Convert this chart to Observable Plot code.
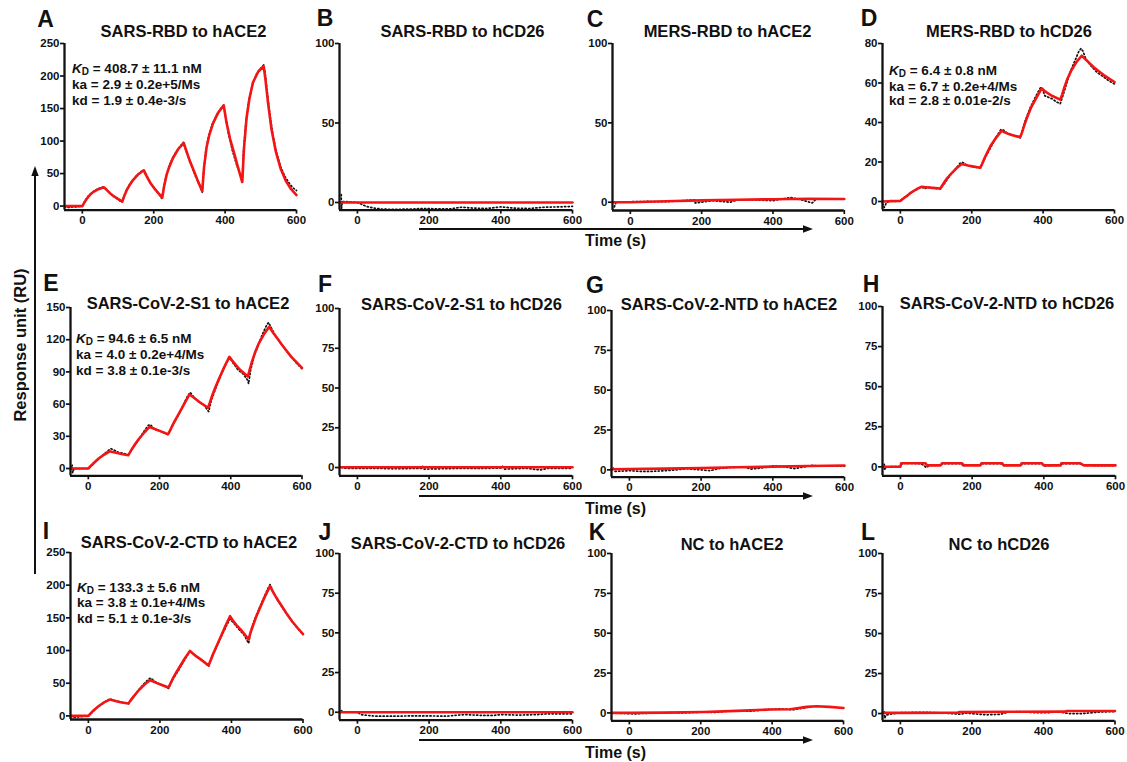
<!DOCTYPE html>
<html><head><meta charset="utf-8">
<script src="https://cdn.jsdelivr.net/npm/d3@7"></script>
<script src="https://cdn.jsdelivr.net/npm/@observablehq/plot@0.6"></script>
<style>
body{margin:0;background:#fff;}
#fig{position:relative;width:1127px;height:762px;overflow:hidden;font-family:"Liberation Sans",Arial,Helvetica,sans-serif;color:#111;}
.abs{position:absolute;white-space:nowrap;}
.letter{font-weight:bold;font-size:23px;line-height:1;transform:translate(-50%,-50%);}
.title{font-weight:bold;font-size:16.5px;line-height:1;transform:translate(-50%,-50%);}
.ann{font-weight:bold;font-size:13.5px;line-height:16px;transform:translateY(-50%);}
.ann sub{font-size:10px;vertical-align:-2px;line-height:0;}
.time{font-weight:bold;font-size:16px;line-height:1;transform:translate(-50%,-50%);}
.ylab{font-size:16.5px;font-weight:bold;line-height:1;transform:translate(-50%,-50%) rotate(-90deg);}
</style></head>
<body><div id="fig"></div>
<script>
// ---------- data ----------
const letters = ["A","B","C","D","E","F","G","H","I","J","K","L"];
const titles = ["SARS-RBD to hACE2","SARS-RBD to hCD26","MERS-RBD to hACE2","MERS-RBD to hCD26",
  "SARS-CoV-2-S1 to hACE2","SARS-CoV-2-S1 to hCD26","SARS-CoV-2-NTD to hACE2","SARS-CoV-2-NTD to hCD26",
  "SARS-CoV-2-CTD to hACE2","SARS-CoV-2-CTD to hCD26","NC to hACE2","NC to hCD26"];
const xTicks = [0,200,400,600];
const ticks250 = [0,50,100,150,200,250];
const ticks100a = [0,50,100];
const ticks80 = [0,20,40,60,80];
const ticks150 = [0,30,60,90,120,150];
const ticks100b = [0,25,50,75,100];
const yTop = [250,100,100,80,150,100,100,100,250,100,100,100];
const yBottom = [-6.15,-4.8,-5.2,-4.35,-6.8,-5.2,-4.6,-5.6,-5.5,-5,-5,-4.6];
const annA = ["408.7 ± 11.1 nM","ka = 2.9 ± 0.2e+5/Ms","kd = 1.9 ± 0.4e-3/s"];
const annD = ["6.4 ± 0.8 nM","ka = 6.7 ± 0.2e+4/Ms","kd = 2.8 ± 0.01e-2/s"];
const annE = ["94.6 ± 6.5 nM","ka = 4.0 ± 0.2e+4/Ms","kd = 3.8 ± 0.1e-3/s"];
const annI = ["133.3 ± 5.6 nM","ka = 3.8 ± 0.1e+4/Ms","kd = 5.1 ± 0.1e-3/s"];

// fitted curves (red) and measured responses (black dotted): [time s, RU]
const fitA = [[-50,0],[0,0],[5,5],[12,11],[20,16.5],[30,21.5],[45,26],[60,29],[68,25],[78,19.5],[90,14.5],[112,7],
 [117,15],[124,24],[132,32],[142,40],[157,49],[172,55],[180,46],[190,36],[202,27],[224,13],
 [229,30],[236,48],[244,61],[254,74],[269,88],[284,97],[292,84],[302,68],[314,52],[324,38],[336,23],
 [341,60],[348,90],[356,110],[366,127],[381,144],[396,155],[404,128],[414,103],[426,80],[436,60],[448,37],
 [453,90],[460,135],[468,165],[478,190],[493,207],[508,215],[513,195],[520,160],[530,118],[542,84],[556,57],[570,39],[585,26],[600,17]];
const dataA = [[-50,-1],[-40,-2],[-30,-1.5],[-15,-1],[0,0],[8,9],[16,15],[25,20],[35,24],[48,27.5],[58,29.5],[65,27],[75,21],[86,16],[98,11],[110,6],
 [115,12],[122,23],[130,31],[140,39],[152,47],[165,53],[173,55],[182,45],[192,35],[205,25],[215,18],[222,12],
 [227,26],[234,45],[242,60],[252,73],[262,83],[274,92],[283,98],[290,86],[300,71],[310,56],[320,42],[330,31],[336,21],
 [339,48],[346,86],[354,108],[364,126],[376,140],[388,150],[396,155],[402,135],[410,110],[420,86],[432,64],[442,48],[448,36],
 [451,80],[458,128],[466,160],[476,186],[488,203],[500,212],[508,217],[512,205],[518,175],[526,138],[535,106],[545,80],[556,60],[568,45],[580,35],[590,28],[600,24]];
const fitB = [[-50,0],[600,0]];
const dataB = [[-45,5],[-45,-5],[-42,0.5],[-30,0.5],[0,0],[10,-1],[25,-2.5],[45,-3.5],[70,-4.2],[100,-4.3],[150,-4.2],[180,-3.8],[220,-4],[260,-4],[290,-3],[320,-3.5],[360,-3.8],[400,-2.8],[440,-3.6],[480,-3.8],[520,-3],[560,-2.8],[600,-2.5]];
const fitC = [[-50,0],[0,0],[100,0.6],[200,1.2],[300,1.6],[400,1.9],[500,2.2],[600,2.0]];
const dataC = [[-45,-3],[-40,0],[0,0.3],[50,0.5],[100,0.3],[180,1.5],[182,-0.5],[230,1],[280,0],[300,1.5],[340,1.5],[400,1],[450,3],[480,1.5],[510,-0.5],[520,1.8]];
const fitD = [[-50,0],[0,0.3],[5,1],[12,2],[20,3],[30,4.5],[45,6.2],[60,7.5],[68,7.3],[78,7.1],[90,6.9],[112,6.6],
 [117,8],[124,10],[132,12],[142,14],[157,16.8],[172,19],[180,18.6],[190,18.2],[202,17.8],[224,17.1],
 [229,19],[236,22],[244,25],[254,28.5],[269,32.5],[284,35.8],[292,35],[302,34.3],[314,33.6],[336,32.6],
 [341,35],[348,39],[356,43],[366,47.5],[381,52.5],[396,57.3],[404,56],[414,54.7],[426,53.4],[448,51.6],
 [453,54],[460,58],[468,62],[478,66],[493,70.5],[508,73.8],[513,73],[520,71.8],[530,70],[542,68],[556,66],[570,64],[585,62.2],[600,60.5]];
const dataD = [[-50,-1],[-45,-3],[-40,-1],[-30,0.5],[-10,0],[0,0.5],[15,2.5],[30,4.5],[45,6],[60,7.5],[66,6.5],[80,7.2],[95,6.7],[112,6.4],
 [125,9.5],[140,13.5],[155,16.5],[168,19.5],[175,19.8],[190,18],[205,17.6],[224,17],[240,23],[255,28],[270,33],[282,36.5],[290,36],[300,34.5],[318,33.5],[336,32.3],
 [350,41],[365,48],[380,53.5],[393,57.8],[400,56],[405,53.5],[412,53],[425,52],[437,50.5],[448,49.5],[458,55],[468,61],[480,67.5],[492,72.5],[500,76],[506,77.5],[512,76],[520,72],[535,68.5],[550,65.5],[570,63],[585,61],[600,59.5]];
const fitE = [[-50,0],[0,0],[5,1.8],[12,4],[20,6.5],[30,9.5],[45,13],[60,16],[68,15.4],[78,14.6],[90,13.8],[112,12.4],
 [117,15],[124,19],[132,23],[142,27.5],[157,33.5],[172,38.7],[180,37.6],[190,36.3],[202,34.8],[224,31.9],
 [229,35],[236,40],[244,45],[254,51],[269,60],[284,69],[292,67],[302,64.5],[314,61.5],[336,56.6],
 [341,61],[348,68],[356,75],[366,83],[381,94],[396,104],[404,100.5],[414,96.5],[426,92],[448,85.7],
 [453,92],[460,100],[468,108],[478,116],[493,125],[508,132],[513,129.5],[520,126],[530,121.5],[542,116],[556,110],[570,104],[585,98.8],[600,93.7]];
const dataE = [[-50,-1],[-45,3],[-44,-4],[-40,0],[-20,0],[0,0],[10,3],[20,6.5],[35,11],[50,15],[63,18.5],[70,17.5],[85,15],[100,14],[112,12.5],
 [125,19],[140,26],[155,34],[168,40],[174,41],[185,37],[200,35],[215,33],[224,31.5],[235,39],[250,48],[265,58],[278,67],[286,71],[295,67],[310,62],[325,59],[338,53],
 [345,63],[358,75],[370,85],[383,95],[392,101],[398,103],[405,99],[420,92],[435,88],[448,82],[450,79],[456,92],[466,105],[478,116],[490,126],[500,133],[506,136],
 [514,131],[525,124],[540,117],[555,110],[570,104],[585,98],[600,93]];
const fitF = [[-50,0.2],[600,0.2]];
const dataF = [[-45,0],[-30,-0.5],[0,-0.5],[50,-0.5],[100,-0.8],[180,-0.5],[182,0.8],[185,-1],[250,-0.7],[300,-0.5],[350,-0.6],[400,-0.3],[405,0.8],[410,-1],[470,-0.5],[510,-1.5],[530,-0.5],[600,-0.5]];
const fitG = [[-50,0.4],[0,0.5],[100,0.8],[200,1.2],[300,1.6],[400,2],[500,2.4],[600,2.7]];
const dataG = [[-45,1],[-40,-1],[0,-0.5],[30,-1],[60,-1],[100,-0.5],[130,0],[160,0.7],[225,-0.5],[250,0.8],[280,1.5],[320,1.8],[340,0.5],[380,1.5],[400,2.5],[430,2],[460,0.8],[480,1.6],[510,2.8],[530,2.4],[600,2.4]];
const fitH = [[-50,0],[0,0],[2,2.2],[70,2.2],[74,0.9],[112,0.9],[116,2.2],[172,2.2],[177,0.9],[223,0.9],[226,2.2],[284,2.2],[288,0.9],[335,0.9],[338,2.2],[395,2.2],[400,0.9],[447,0.9],[449,2.2],[502,2.2],[512,0.9],[600,0.9]];
const dataH = [[-45,1.5],[-44,-2],[-40,0],[0,0.2],[5,2.2],[55,2],[65,1],[72,-0.5],[80,0.8],[112,1],[118,2],[170,2],[175,0.5],[180,1],[224,1.2],[228,2],[280,2],[290,0.8],[336,1],[340,2],[395,2],[400,0.6],[448,1],[452,2],[500,2],[510,1],[540,0.8],[600,0.8]];
const fitI = [[-50,0],[0,0],[5,3],[12,7],[20,11],[30,15.5],[45,21],[60,25],[68,24],[78,22.5],[90,21],[112,19],
 [117,23],[124,28],[132,33.5],[142,40],[157,48],[172,54.6],[180,53],[190,50.5],[202,48],[224,43.4],
 [229,49],[236,57],[244,65],[254,74],[269,87.5],[284,99.5],[292,95.5],[302,91],[314,86.5],[336,77],
 [341,84],[348,94],[356,104],[366,116],[381,135],[396,152.5],[404,146],[414,139],[426,132],[448,117],
 [453,127],[460,138],[468,150],[478,163],[493,182],[508,198.5],[513,193],[520,186],[530,177],[542,167],[556,155],[570,144.5],[585,134.5],[600,125]];
const dataI = [[-50,-1],[-40,-2],[-20,-1],[0,0],[10,5],[22,12],[35,17],[48,22],[60,26],[70,24],[85,22],[100,20],[112,18.5],
 [125,28],[140,39],[155,49],[168,56],[174,58],[185,53],[200,48],[215,45],[224,42],[235,55],[250,68],[265,82],[278,94],[285,99],[295,94],[310,88],[325,82],[336,76],
 [345,89],[358,105],[372,122],[386,138],[396,148],[405,143],[420,133],[435,124],[448,111],[455,132],[465,148],[478,165],[492,183],[502,195],[508,201],
 [515,192],[528,178],[542,166],[556,155],[570,144],[585,134],[600,125]];
const fitJ = [[-50,0],[600,0]];
const dataJ = [[-45,1],[-40,0],[0,0],[10,-1.5],[30,-2],[50,-2.5],[100,-2.5],[150,-2.3],[200,-2.3],[250,-2.5],[280,-1.8],[300,-1.5],[350,-2],[380,-2],[400,-1.5],[450,-1.8],[500,-1.5],[530,-1],[600,-1]];
const fitK = [[-50,0],[0,0],[100,0.2],[208,0.6],[301,1.3],[395,2.1],[451,2.3],[497,3.8],[525,4.2],[560,3.8],[600,3.1]];
const dataK = [[-45,0],[0,-0.5],[20,-0.6],[40,-0.3],[120,0.2],[150,0],[200,0.5],[240,0.3],[280,1.2],[340,1.1],[390,2.2],[420,2.5],[440,2.3],[460,2],[500,3.5],[510,3.8]];
const fitL = [[-50,0.4],[0,0.4],[160,0.5],[165,0.9],[300,1.1],[460,1.2],[465,1.6],[600,1.6]];
const dataL = [[-45,1],[-44,-3],[-40,-1],[-30,-0.5],[0,0.5],[50,0.8],[100,0.6],[170,-0.5],[180,0.3],[240,-0.8],[280,-0.5],[300,0.8],[330,1.2],[380,0.5],[420,0.6],[440,1.2],[470,0],[510,0],[560,1],[600,1.2]];

// ---------- layout (pixel boxes: x at t=-50, x at t=600, y of top tick, y of x-axis) ----------
const fits = [fitA,fitB,fitC,fitD,fitE,fitF,fitG,fitH,fitI,fitJ,fitK,fitL];
const datas = [dataA,dataB,dataC,dataD,dataE,dataF,dataG,dataH,dataI,dataJ,dataK,dataL];
const yTickSets = [ticks250,ticks100a,ticks100a,ticks80,ticks150,ticks100b,ticks100b,ticks100b,ticks250,ticks100b,ticks100b,ticks100b];
const boxes = [
 [64,296,42.7,209.3],[339,572,42.7,209.3],[611.5,843.3,43,210],[882,1114,42.7,209.3],
 [69.5,301,306.7,475],[339,572,307.7,475],[611,844,310,476.7],[882,1115,305.7,475],
 [69.5,302,552.3,719.3],[339,572,553.3,720],[611,843,553.3,720.7],[881.5,1114,553.3,720.7]];
const letterPos = [[45.5,18.5],[325,18],[595,19],[869,18],[51,283],[325,284],[595,285],[871,284],[46,531],[325,532],[597,532],[868,532]];
const titlePos = [[183.5,31],[462.5,30.5],[727.5,31],[1009,31],[188,303],[461.5,304],[729,304],[1007,303],[189,542],[458,543],[732,544],[999,544]];
const annots = [{lines:annA,x:72,y:[69,85,101]},{lines:annD,x:889,y:[71,86.5,101]},{lines:annE,x:76,y:[339,355,371]},{lines:annI,x:77,y:[587.5,603,618.5]}];

const fig = document.getElementById("fig");
const FONT = '"Liberation Sans",Arial,Helvetica,sans-serif';
const mL=40,mR=22,mT=10,mB=28;

fits.forEach((fit,i)=>{
  const [x0,x1,yT,yB] = boxes[i];
  const w = mL + (x1-x0) + mR, h = mT + (yB-yT) + mB;
  const svg = Plot.plot({
    width:w, height:h, marginLeft:mL, marginRight:mR, marginTop:mT, marginBottom:mB,
    x:{domain:[-50,600]}, y:{domain:[yBottom[i], yTop[i]]},
    style:{fontFamily:FONT, fontSize:"11.5px", fontWeight:"bold", color:"#111", background:"transparent", overflow:"visible"},
    marks:[
      Plot.axisX({ticks:xTicks, tickSize:4, tickPadding:2, strokeWidth:1.7, label:null}),
      Plot.axisY({ticks:yTickSets[i], tickSize:4, tickPadding:1, strokeWidth:1.7, label:null}),
      Plot.line(datas[i], {x:d=>d[0], y:d=>d[1], stroke:"#111", strokeWidth:1.7, strokeDasharray:"1.2,2.4"}),
      Plot.line(fit, {x:d=>d[0], y:d=>d[1], stroke:"#f51414", strokeWidth:2.6}),
      Plot.ruleX([-50], {strokeWidth:2.3, stroke:"#111"}),
      Plot.ruleY([yBottom[i]], {strokeWidth:2.3, stroke:"#111"})
    ]
  });
  svg.classList.add("abs");
  svg.style.left = (x0-mL)+"px";
  svg.style.top = (yT-mT)+"px";
  fig.appendChild(svg);
});

function addDiv(cls, html, x, y){
  const d = document.createElement("div");
  d.className = "abs "+cls; d.innerHTML = html;
  d.style.left = x+"px"; d.style.top = y+"px";
  fig.appendChild(d); return d;
}
letters.forEach((t,i)=>addDiv("letter", t, letterPos[i][0], letterPos[i][1]));
titles.forEach((t,i)=>addDiv("title", t, titlePos[i][0], titlePos[i][1]));
annots.forEach(a=>{
  a.lines.forEach((ln,j)=>{
    const html = j===0 ? '<i>K</i><sub>D</sub> = '+ln : ln;
    addDiv("ann", html, a.x, a.y[j]);
  });
});
[241,508.5,752.5].forEach(y=>addDiv("time","Time (s)",615.5,y));
addDiv("ylab","Response unit (RU)",20,345);

// arrows
const ns="http://www.w3.org/2000/svg";
const ov=document.createElementNS(ns,"svg");
ov.setAttribute("width",1127); ov.setAttribute("height",762);
ov.setAttribute("class","abs"); ov.style.left="0px"; ov.style.top="0px"; ov.style.pointerEvents="none";
let s='<line x1="35" y1="574" x2="35" y2="175" stroke="#111" stroke-width="2"/><polygon points="35,166 31.3,176 38.7,176" fill="#111"/>';
[229,496,740].forEach(y=>{
  s+='<line x1="419" y1="'+y+'" x2="804" y2="'+y+'" stroke="#111" stroke-width="2"/><polygon points="813,'+y+' 803,'+(y-3.7)+' 803,'+(y+3.7)+'" fill="#111"/>';
});
ov.innerHTML=s;
fig.appendChild(ov);
</script>
</body></html>
